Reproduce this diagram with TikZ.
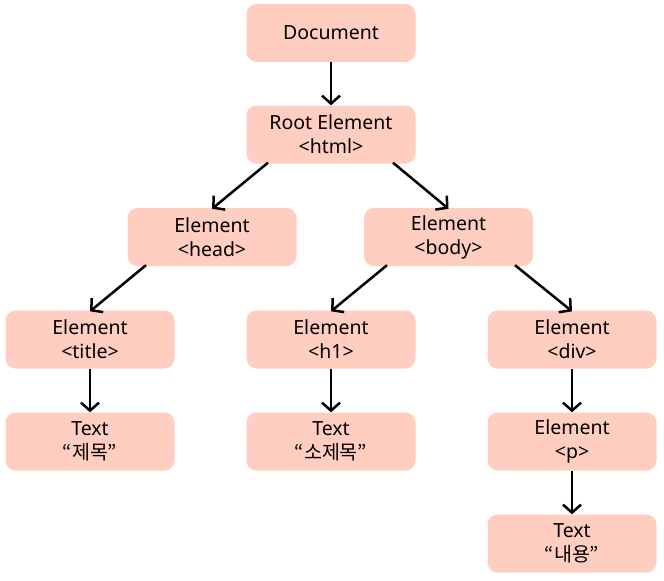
\documentclass[tikz,border=0pt]{standalone}
\usepackage{fontspec}
\setmainfont{Noto Sans}
\newfontfamily\kr{Noto Sans CJK KR}
\usetikzlibrary{arrows.meta}
\definecolor{boxfill}{HTML}{FFCEC0}
\begin{document}
\begin{tikzpicture}[x=1pt,y=-1pt,
  dombox/.style={fill=boxfill, rounded corners=10pt, minimum width=169pt, minimum height=58pt,
    align=center, font=\fontsize{19.5}{24}\selectfont, inner sep=0pt},
  conn/.style={line width=2.5pt, -{Straight Barb[length=8pt,width=18pt,line width=2.5pt]}}]
\useasboundingbox (0,0) rectangle (664,581);
\node[dombox] (doc) at (331,33) {Document};
\node[dombox] (root) at (331,134.5) {Root Element\\<html>};
\node[dombox] (head) at (212,237) {Element\\<head>};
\node[dombox] (body) at (448.5,237) {Element\\<body>};
\node[dombox] (title) at (90,339.5) {Element\\<title>};
\node[dombox] (h1) at (331,339.5) {Element\\<h1>};
\node[dombox] (div) at (572,339.5) {Element\\<div>};
\node[dombox] (t1) at (90,441.5) {Text\\{\kr “제목”}};
\node[dombox] (t2) at (331,441.5) {Text\\{\kr “소제목”}};
\node[dombox] (p) at (572,441.5) {Element\\<p>};
\node[dombox] (t3) at (572,543.5) {Text\\{\kr “내용”}};
\draw[conn] (doc.south) -- (root.north);
\draw[conn] ([xshift=-63pt,yshift=1pt]root.south) -- ([yshift=-1pt]head.north);
\draw[conn] ([xshift=62pt,yshift=1pt]root.south) -- ([yshift=-1pt]body.north);
\draw[conn] ([xshift=-66pt,yshift=1pt]head.south) -- ([yshift=-1pt]title.north);
\draw[conn] ([xshift=-61.5pt,yshift=1pt]body.south) -- ([yshift=-1pt]h1.north);
\draw[conn] ([xshift=66.5pt,yshift=1pt]body.south) -- ([yshift=-1pt]div.north);
\draw[conn] (title.south) -- (t1.north);
\draw[conn] (h1.south) -- (t2.north);
\draw[conn] (div.south) -- (p.north);
\draw[conn] (p.south) -- (t3.north);
\end{tikzpicture}
\end{document}
